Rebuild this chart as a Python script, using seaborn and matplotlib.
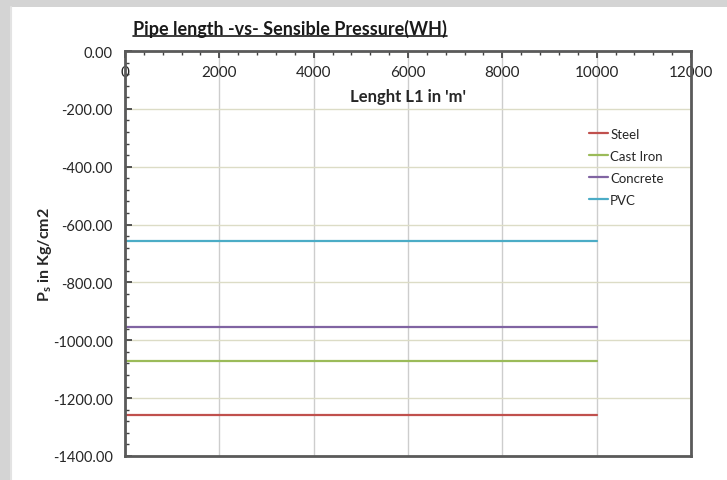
import matplotlib
matplotlib.use("Agg")
import matplotlib.pyplot as plt
import seaborn as sns
import pandas as pd
from matplotlib.patches import Rectangle
from matplotlib.lines import Line2D
from matplotlib.ticker import MultipleLocator, FormatStrFormatter

# data (pressure is flat along the pipe)
lengths = [0, 2000, 4000, 6000, 8000, 10000]
steel = [-1258, -1258, -1258, -1258, -1258, -1258]
cast_iron = [-1071, -1071, -1071, -1071, -1071, -1071]
concrete = [-955, -955, -955, -955, -955, -955]
pvc = [-656, -656, -656, -656, -656, -656]
materials = ["Steel", "Cast Iron", "Concrete", "PVC"]
colors = ["#c0504d", "#9bbb59", "#8064a2", "#4bacc6"]

df = pd.concat([
    pd.DataFrame({"L1": lengths, "Ps": vals, "Material": name})
    for name, vals in zip(materials, [steel, cast_iron, concrete, pvc])
])

sns.set_theme(style="white")
plt.rcParams["font.family"] = ["Lato", "DejaVu Sans"]
plt.rcParams["mathtext.fontset"] = "custom"
plt.rcParams["mathtext.bf"] = "Lato:bold"
plt.rcParams["mathtext.rm"] = "Lato"

fig = plt.figure(figsize=(7.27, 4.81), dpi=100, facecolor="#d4d4d4")
# white chart area with the grey shadow on top/left
fig.patches.append(Rectangle((11 / 727, 0), 1, 1 - 8 / 481, transform=fig.transFigure,
                             facecolor="white", edgecolor="none", zorder=-2))
fig.lines.append(Line2D([11 / 727, 11 / 727], [0, 1 - 8 / 481], transform=fig.transFigure,
                        color="#e3e3e3", lw=1.5, zorder=-1))

ax = fig.add_axes([125 / 727, 1 - 457 / 481, 566 / 727, 405 / 481])
ax.set_zorder(1)
sns.lineplot(data=df, x="L1", y="Ps", hue="Material", hue_order=materials,
             palette=dict(zip(materials, colors)), lw=1.6, ax=ax)

ax.set_xlim(0, 12000)
ax.set_ylim(-1400, 0)
ax.xaxis.set_major_locator(MultipleLocator(2000))
ax.xaxis.set_minor_locator(MultipleLocator(400))
ax.yaxis.set_major_locator(MultipleLocator(200))
ax.yaxis.set_minor_locator(MultipleLocator(40))
ax.yaxis.set_major_formatter(FormatStrFormatter("%.2f"))

ax.tick_params(axis="x", which="both", top=True, bottom=False, labeltop=True,
               labelbottom=False, direction="in", pad=-20, labelsize=11,
               colors="#404040", labelcolor="#262626")
ax.tick_params(axis="x", which="major", length=5)
ax.tick_params(axis="x", which="minor", length=3)
ax.tick_params(axis="y", which="both", left=True, direction="in", pad=9,
               labelsize=10.5, colors="#404040", labelcolor="#262626")
ax.tick_params(axis="y", which="major", length=5)
ax.tick_params(axis="y", which="minor", length=3)

ax.grid(True, which="major", axis="x", color="#cdcdcd", lw=1)
ax.grid(True, which="major", axis="y", color="#dcdcc6", lw=1)
for s in ax.spines.values():
    s.set_color("#5a5a5a")
    s.set_linewidth(2)

ax.set_xlabel("Lenght L1 in 'm'", fontsize=12, fontweight="bold", color="#262626")
ax.xaxis.set_label_position("top")
ax.xaxis.set_label_coords(0.5, 1 - (97 - 52) / 405)
ax.xaxis.label.set_va("center")
ax.set_ylabel("")

sns.move_legend(ax, "upper left", bbox_to_anchor=(0.82, 0.81), frameon=False,
                title=None, fontsize=9.5, handlelength=1.4, handletextpad=0.2,
                labelspacing=0.75, borderpad=0, borderaxespad=0)

fig.text(45 / 727, 1 - 255 / 481, r"P$_\mathbf{s}$ in Kg/cm2", rotation=90,
         ha="center", va="center", fontsize=11.5, fontweight="bold", color="#262626")

title = fig.text(133 / 727, 1 - 29 / 481, "Pipe length -vs- Sensible Pressure(WH)",
                 ha="left", va="center", fontsize=13, fontweight="bold", color="#1a1a1a")
fig.canvas.draw()
bb = title.get_window_extent().transformed(fig.transFigure.inverted())
fig.lines.append(Line2D([bb.x0, bb.x1], [bb.y0 + 0.002, bb.y0 + 0.002],
                        transform=fig.transFigure, color="#1a1a1a", lw=1.2))

fig.savefig("out.png", dpi=100, facecolor=fig.get_facecolor())
